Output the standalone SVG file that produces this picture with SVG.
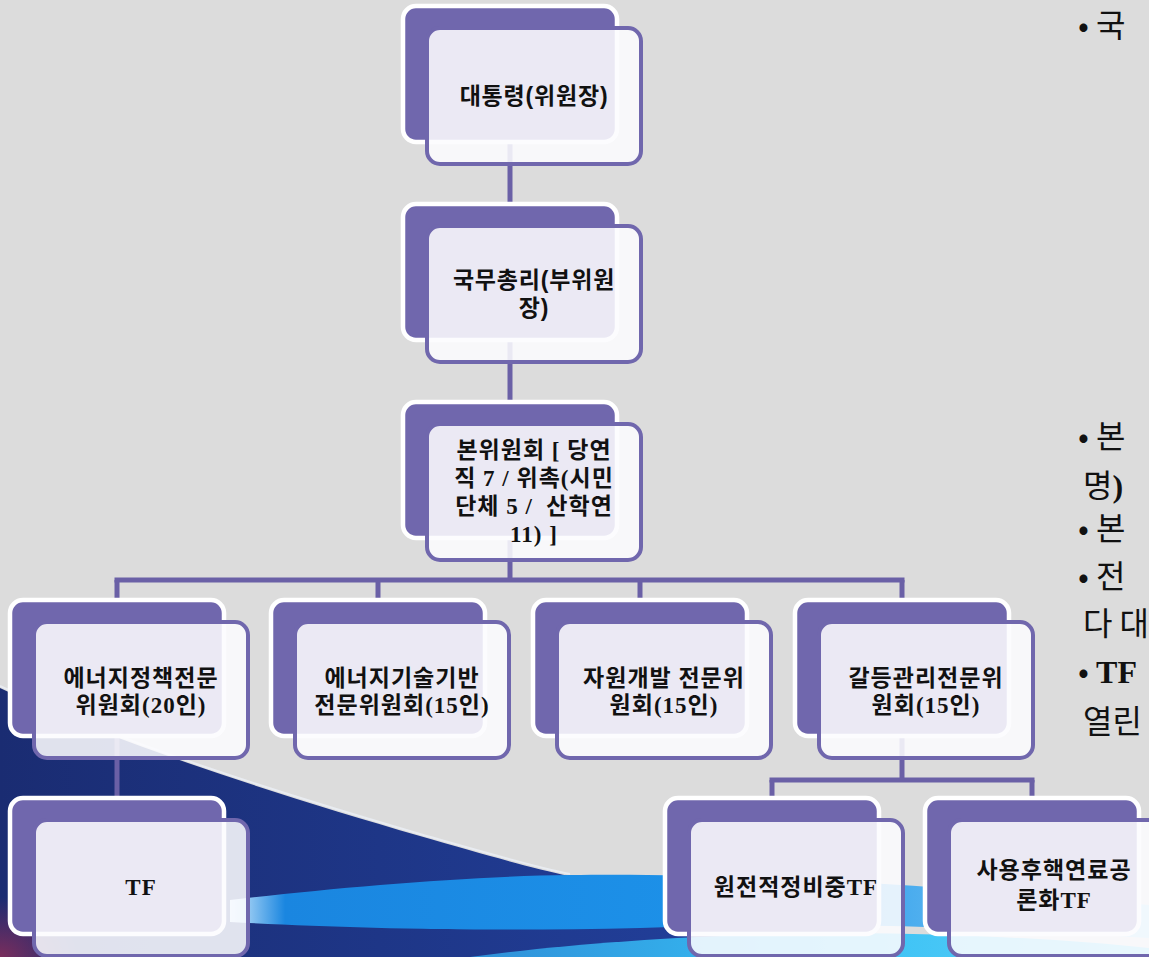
<svg xmlns="http://www.w3.org/2000/svg" width="1149" height="957" viewBox="0 0 1149 957">
<defs>
<style>
.back{fill:#7067ad;stroke:#ffffff;stroke-width:4.5}
.front{fill:#fcfcfe;fill-opacity:0.88;stroke:#7067ad;stroke-width:4}
.lbl{font-family:"Liberation Serif","Noto Sans CJK KR",serif;font-size:23px;font-weight:bold;text-anchor:middle;letter-spacing:1px;fill:#111}
.lbls{font-family:"Liberation Sans","Noto Sans CJK KR",sans-serif;font-size:23px;font-weight:bold;text-anchor:middle;letter-spacing:0.8px;fill:#111}
.conn{stroke:#6a60a6;stroke-width:5;fill:none}
.side{font-family:"Noto Sans CJK KR","Liberation Sans",sans-serif;font-size:32px;fill:#111}
.serifb{font-family:"Liberation Serif",serif;font-weight:bold}
</style>
<linearGradient id="navy" x1="0" y1="0" x2="1" y2="0">
<stop offset="0" stop-color="#1a2c72"/>
<stop offset="1" stop-color="#22409c"/>
</linearGradient>
<linearGradient id="band" x1="0" y1="0" x2="1" y2="0">
<stop offset="0" stop-color="#cfe9fb"/>
<stop offset="0.06" stop-color="#1a86e0"/>
<stop offset="0.6" stop-color="#1d93ea"/>
<stop offset="1" stop-color="#9fdcf6"/>
</linearGradient>
<linearGradient id="cyan" x1="0" y1="0" x2="1" y2="0">
<stop offset="0" stop-color="#2f8fd8"/>
<stop offset="0.5" stop-color="#36bff5"/>
<stop offset="1" stop-color="#5fd2f7"/>
</linearGradient>
<radialGradient id="corner" cx="0" cy="1" r="1">
<stop offset="0" stop-color="#7a2d5c"/>
<stop offset="1" stop-color="#7a2d5c" stop-opacity="0"/>
</radialGradient>
</defs>

<g id="background">
<rect width="1149" height="957" fill="#dcdcdc"/>
<path d="M0,688 C120,745 280,795 420,836 C480,853 530,868 570,876 L760,880 L760,957 L0,957 Z" fill="url(#navy)"/>
<path d="M0,686 C120,743 280,793 420,834 C480,851 530,866 570,874" fill="none" stroke="#eef2fa" stroke-width="2" stroke-opacity="0.7"/>
<path d="M230,900 C330,888 470,876 570,875 C700,873 880,880 1149,905 L1149,938 C950,925 800,922 640,928 C480,932 340,928 230,922 Z" fill="url(#band)"/>
<path d="M470,957 C560,945 660,937 780,934 C920,931 1050,938 1149,948 L1149,957 Z" fill="url(#cyan)"/>
<rect x="0" y="897" width="80" height="60" fill="url(#corner)"/>
</g>

<g id="connectors">
<line class="conn" x1="510" y1="142" x2="510" y2="206"/>
<line class="conn" x1="510" y1="340" x2="510" y2="404"/>
<line class="conn" x1="510" y1="538" x2="510" y2="580"/>
<line class="conn" x1="114.5" y1="580" x2="904.5" y2="580"/>
<line class="conn" x1="117" y1="580" x2="117" y2="602"/>
<line class="conn" x1="378" y1="580" x2="378" y2="602"/>
<line class="conn" x1="640" y1="580" x2="640" y2="602"/>
<line class="conn" x1="902" y1="580" x2="902" y2="602"/>
<line class="conn" x1="117" y1="736" x2="117" y2="800"/>
<line class="conn" x1="902" y1="736" x2="902" y2="780"/>
<line class="conn" x1="769.5" y1="780" x2="1034.5" y2="780"/>
<line class="conn" x1="772" y1="780" x2="772" y2="800"/>
<line class="conn" x1="1032" y1="780" x2="1032" y2="800"/>
</g>

<g id="node-president">
<rect class="back" x="403" y="6" width="214" height="136" rx="13"/>
<rect class="front" x="427" y="28" width="214" height="136" rx="13"/>
<text class="lbls" x="534" y="104">대통령(위원장)</text>
</g>

<g id="node-pm">
<rect class="back" x="403" y="204" width="214" height="136" rx="13"/>
<rect class="front" x="427" y="226" width="214" height="136" rx="13"/>
<text class="lbls"><tspan x="534" y="288">국무총리(부위원</tspan><tspan x="534" y="316">장)</tspan></text>
</g>

<g id="node-main">
<rect class="back" x="403" y="402" width="214" height="136" rx="13"/>
<rect class="front" x="427" y="424" width="214" height="136" rx="13"/>
<text class="lbl" xml:space="preserve"><tspan x="534" y="458">본위원회 [ 당연</tspan><tspan x="534" y="486">직 7 / 위촉(시민</tspan><tspan x="534" y="514">단체 5 /  산학연</tspan><tspan x="534" y="542">11) ]</tspan></text>
</g>

<g id="node-energy-policy">
<rect class="back" x="10" y="600" width="214" height="136" rx="13"/>
<rect class="front" x="34" y="622" width="214" height="136" rx="13"/>
<text class="lbl"><tspan x="141" y="686">에너지정책전문</tspan><tspan x="141" y="713">위원회(20인)</tspan></text>
</g>

<g id="node-energy-tech">
<rect class="back" x="271" y="600" width="214" height="136" rx="13"/>
<rect class="front" x="295" y="622" width="214" height="136" rx="13"/>
<text class="lbl"><tspan x="402" y="686">에너지기술기반</tspan><tspan x="402" y="713">전문위원회(15인)</tspan></text>
</g>

<g id="node-resource">
<rect class="back" x="533" y="600" width="214" height="136" rx="13"/>
<rect class="front" x="557" y="622" width="214" height="136" rx="13"/>
<text class="lbl"><tspan x="664" y="686">자원개발 전문위</tspan><tspan x="664" y="713">원회(15인)</tspan></text>
</g>

<g id="node-conflict">
<rect class="back" x="795" y="600" width="214" height="136" rx="13"/>
<rect class="front" x="819" y="622" width="214" height="136" rx="13"/>
<text class="lbl"><tspan x="926" y="686">갈등관리전문위</tspan><tspan x="926" y="713">원회(15인)</tspan></text>
</g>

<g id="node-tf">
<rect class="back" x="10" y="798" width="214" height="136" rx="13"/>
<rect class="front" x="34" y="820" width="214" height="136" rx="13"/>
<text class="lbl" x="141" y="895" letter-spacing="-2">TF</text>
</g>

<g id="node-nuclear-tf">
<rect class="back" x="665" y="798" width="214" height="136" rx="13"/>
<rect class="front" x="689" y="820" width="214" height="136" rx="13"/>
<text class="lbl" x="796" y="895">원전적정비중TF</text>
</g>

<g id="node-spentfuel-tf">
<rect class="back" x="925" y="798" width="214" height="136" rx="13"/>
<rect class="front" x="949" y="820" width="214" height="136" rx="13"/>
<text class="lbl"><tspan x="1054" y="878">사용후핵연료공</tspan><tspan x="1054" y="908">론화TF</tspan></text>
</g>

<g id="side-text">
<text class="side" x="1078" y="37">• 국</text>
<text class="side" x="1078" y="448">• 본</text>
<text class="side" x="1083" y="497">명<tspan class="serifb">)</tspan></text>
<text class="side" x="1078" y="540">• 본</text>
<text class="side" x="1078" y="588">• 전</text>
<text class="side" x="1083" y="635">다 대</text>
<text class="side" x="1078" y="683">• <tspan class="serifb">TF</tspan></text>
<text class="side" x="1083" y="733">열린</text>
</g>
</svg>
